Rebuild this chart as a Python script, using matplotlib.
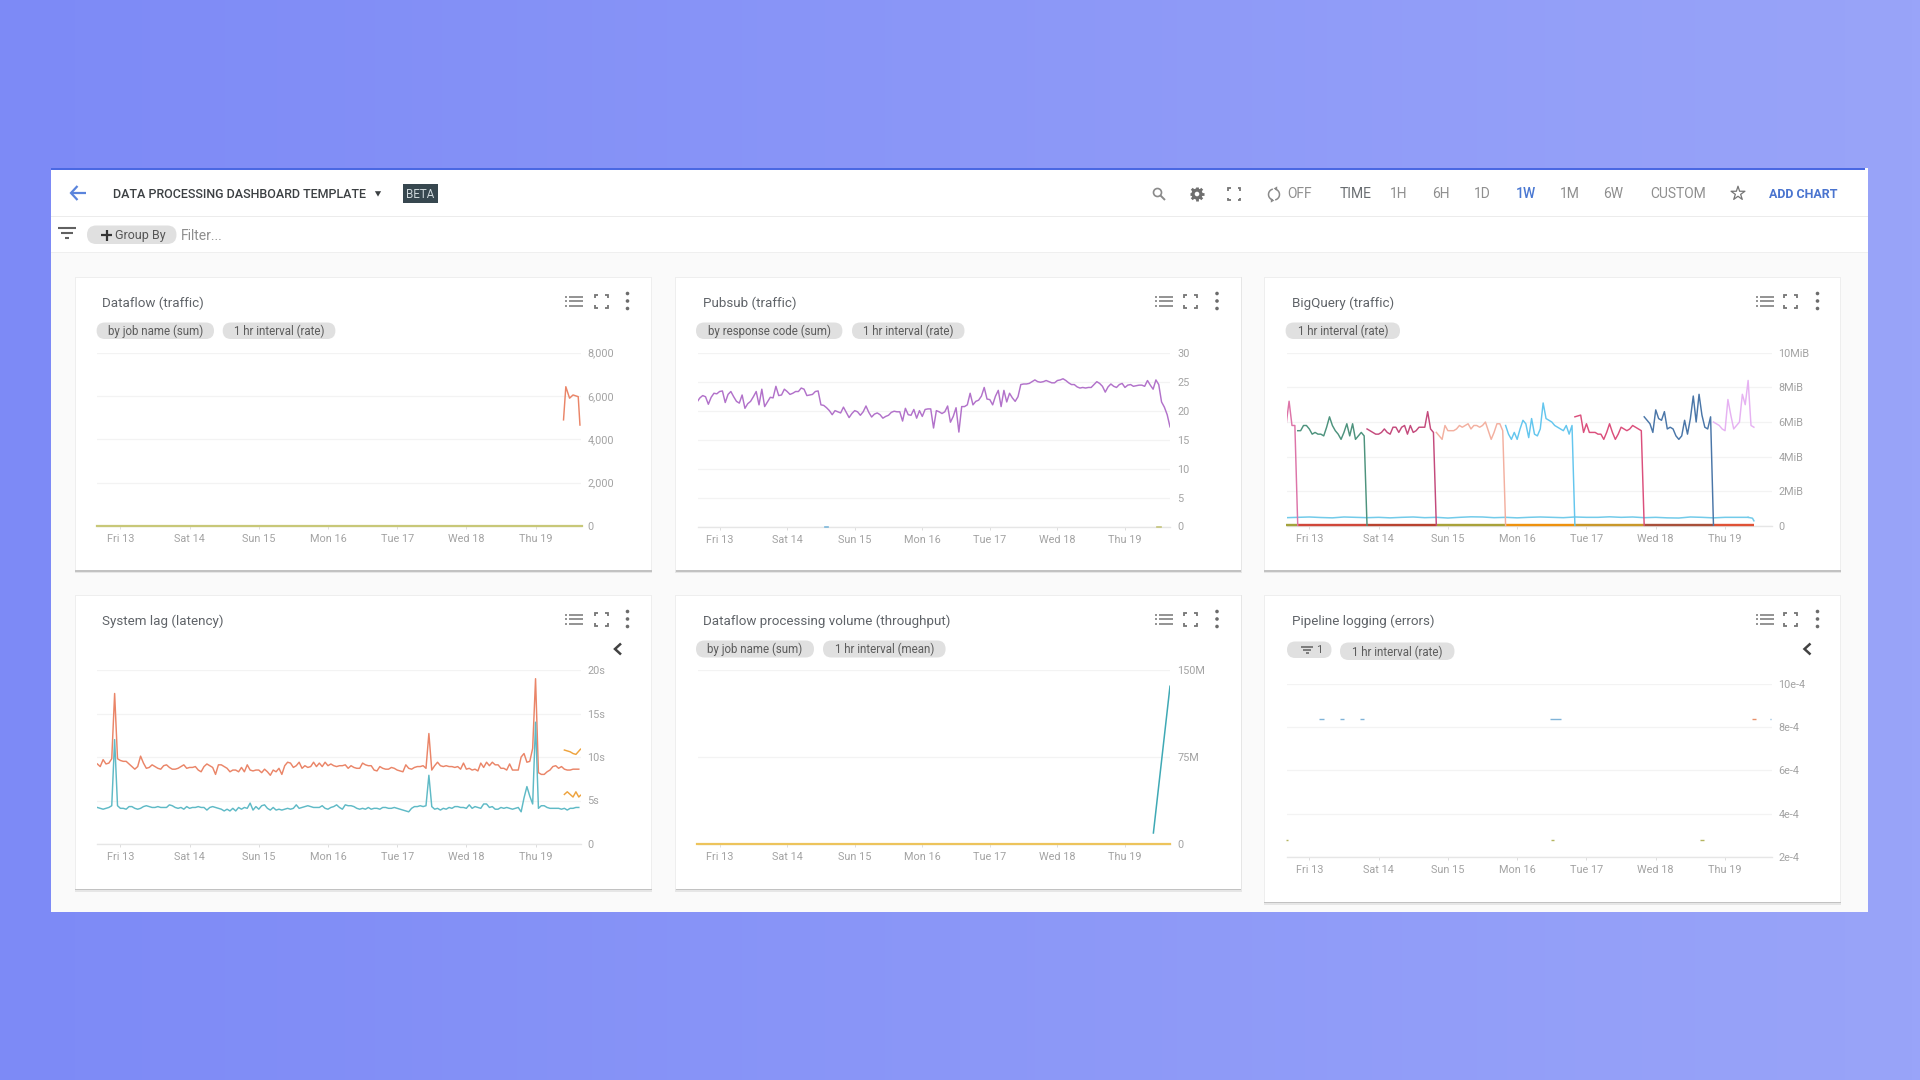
import numpy as np
import matplotlib
matplotlib.use('Agg')
import matplotlib.pyplot as plt
from matplotlib.patches import FancyBboxPatch, Rectangle, Circle, RegularPolygon

plt.rcParams['font.family'] = ['Roboto', 'DejaVu Sans']

day_hours = [0, 24, 48, 72, 96, 120, 144]
day_labels = ['Fri 13', 'Sat 14', 'Sun 15', 'Mon 16', 'Tue 17', 'Wed 18', 'Thu 19']

# Dataflow traffic
flow_hours = [153.7, 154.5, 155.8, 157, 158.8, 159.4]
flow_values = [4900, 6430, 5900, 6050, 5970, 4660]

# Pubsub traffic, hourly from hour -8
pubsub = [21.5, 22.2, 22.6, 22.4, 21.1, 22.3, 23.0, 22.9,
          23.3, 23.4, 21.4, 22.8, 23.3, 22.4, 21.6, 21.3, 22.7, 20.4, 21.2, 21.6, 22.4, 23.3, 21.0, 23.7,
          20.7, 21.5, 22.3, 22.2, 24.2, 22.6, 22.7, 23.7,
          23.3, 22.8, 23.0, 23.3, 23.3, 23.9, 23.7, 22.6, 22.7, 22.8, 23.3, 23.4, 21.0, 20.9, 20.5, 20.0,
          19.3, 20.0, 19.8, 19.6, 20.6, 19.7, 18.8, 19.5,
          20.0, 19.8, 19.2, 19.8, 20.8, 19.7, 18.9, 19.4, 19.6, 19.3, 18.7, 19.0, 19.2, 19.7, 19.9, 19.8,
          19.8, 18.2, 20.4, 19.3, 19.2, 20.2, 18.7, 20.0,
          19.0, 20.2, 20.3, 20.3, 17.0, 20.0, 19.8, 19.5, 19.8, 20.8, 18.0, 19.0, 20.5, 16.3, 20.7, 20.7,
          21.0, 23.0, 21.0, 21.6, 21.8, 22.5, 24.0, 22.0,
          21.9, 21.0, 22.5, 23.5, 20.7, 23.5, 21.5, 23.0, 22.2, 21.6, 22.4, 24.5, 24.6, 24.6, 24.7, 25.0,
          25.3, 25.0, 24.9, 25.0, 25.2, 25.0, 24.8, 24.8,
          25.2, 25.3, 25.5, 25.2, 24.8, 24.5, 24.5, 24.1, 23.9, 24.0, 23.9, 24.0, 24.0, 24.5, 25.0, 24.7,
          24.2, 23.2, 24.1, 24.6, 24.2, 24.0, 24.5, 24.7,
          24.0, 24.4, 24.5, 24.2, 24.3, 24.4, 24.4, 24.2, 25.2, 24.4, 23.7, 25.3, 24.5, 21.5, 20.6, 19.3, 17.2]

# BigQuery traffic, one list per job, hourly from its start hour
bq_starts = [-8, -4, 20, 44, 68, 92, 116, 140]
bq_colors = ['#dd74a8', '#4d937d', '#c44a7c', '#f3b0a0', '#64c6ee', '#db4f7c', '#4a76a8', '#e6b2f2']
bq_jobs = [
    [5.9, 7.2, 5.8, 5.8, 0],
    [5.5, 5.5, 5.8, 5.8, 5.6, 5.3, 5.4, 5.3, 5.3, 5.2, 5.7, 6.3, 5.8, 5.5, 5.3, 5.0, 5.4, 5.9, 5.2, 5.9, 5.0, 5.2, 5.4, 5.2, 0],
    [5.6, 5.5, 5.4, 5.3, 5.3, 5.4, 5.6, 5.4, 5.3, 5.7, 5.7, 5.4, 5.7, 5.8, 5.3, 5.8, 5.4, 5.5, 5.7, 5.7, 5.7, 6.6, 5.6, 5.4, 0],
    [5.4, 5.2, 5.0, 5.8, 5.5, 5.5, 5.5, 5.6, 5.8, 5.7, 5.8, 5.9, 5.6, 5.8, 5.8, 5.7, 5.8, 6.0, 5.5, 5.0, 5.4, 5.9, 5.9, 5.5, 0],
    [5.8, 5.3, 5.0, 5.4, 5.0, 5.6, 6.1, 5.9, 5.1, 6.2, 5.3, 5.2, 5.6, 7.1, 6.2, 6.1, 6.0, 5.8, 5.7, 5.6, 5.5, 5.8, 5.3, 5.8, 0],
    [6.3, 6.35, 6.4, 5.4, 5.9, 5.4, 5.4, 5.4, 5.3, 5.3, 5.0, 5.4, 5.9, 5.4, 5.0, 5.3, 5.7, 5.6, 5.5, 5.6, 5.8, 5.7, 5.6, 5.5, 0],
    [6.3, 6.1, 5.9, 5.4, 6.7, 6.2, 6.1, 6.6, 5.6, 5.7, 5.6, 5.2, 5.0, 5.2, 6.1, 5.3, 6.2, 7.5, 6.0, 7.6, 6.4, 5.7, 5.6, 6.3, 0],
    [6.0, 5.9, 5.8, 5.6, 5.5, 7.3, 6.4, 5.6, 5.8, 6.0, 7.6, 7.0, 8.4, 5.8, 5.7],
]
# every 4 hours from hour -8
bq_base = [0.48, 0.5, 0.52, 0.49, 0.47, 0.52, 0.5, 0.48, 0.5, 0.47, 0.5, 0.52, 0.48, 0.5, 0.46, 0.5, 0.53, 0.52, 0.48, 0.5,
           0.47, 0.5, 0.52, 0.5, 0.48, 0.52, 0.5, 0.5, 0.53, 0.5, 0.52, 0.48, 0.5, 0.47, 0.46, 0.52, 0.5, 0.47, 0.5, 0.5, 0.5]
bq_zero_hours = [-8, -4, 20, 44, 68, 92, 116, 140, 154]
bq_zero_colors = ['#a4a23c', '#d0473a', '#b8432f', '#a9a23a', '#ee920e', '#c9982a', '#a8503a', '#df5236']

# System lag, hourly from hour -8
lag_red = [9.2, 8.9, 9.7, 9.2, 9.3, 9.8, 17.3, 9.8,
           9.6, 9.5, 9.5, 9.2, 8.9, 8.6, 8.9, 10.1, 9.3, 8.7, 8.8, 9.1, 8.9, 8.7, 8.6, 9.0, 9.1, 8.8, 8.6, 8.6, 8.7, 8.9, 9.1, 8.7,
           8.8, 8.8, 8.9, 8.5, 8.3, 8.9, 9.2, 9.0, 8.8, 8.0, 9.1, 9.1, 8.9, 8.7, 8.3, 8.5, 8.5, 8.3, 8.8, 8.3, 9.1, 8.5, 8.4, 8.5,
           8.5, 8.2, 8.6, 8.3, 7.9, 8.5, 8.3, 8.7, 8.0, 9.0, 9.4, 9.3, 8.8, 9.0, 9.4, 8.7, 9.0, 8.8, 8.9, 9.4, 8.9, 9.3, 8.9, 9.4,
           9.0, 9.2, 9.0, 8.9, 9.0, 9.0, 9.1, 8.7, 9.0, 8.8, 8.7, 8.7, 9.3, 9.1, 9.0, 9.0, 8.5, 8.4, 8.9, 8.7, 8.6, 8.6, 8.8, 8.7,
           8.5, 8.4, 8.3, 9.1, 8.7, 8.6, 8.8, 8.9, 8.9, 9.0, 8.7, 12.7, 8.5, 9.0, 9.4, 9.0, 8.9, 9.0, 8.9, 8.9, 8.8, 8.9, 8.6, 9.3,
           8.6, 8.7, 8.5, 8.6, 8.4, 9.3, 8.8, 9.4, 9.0, 9.4, 9.1, 9.1, 8.7, 8.7, 8.5, 9.2, 8.5, 8.5, 8.5, 10.0, 10.4, 9.4, 9.5, 11.0,
           19.0, 8.2, 8.0, 8.0, 8.3, 8.5, 8.9, 9.0, 8.7, 8.9, 8.6, 8.5, 8.5, 8.6, 8.6, 8.6]
lag_teal = [4.2, 4.1, 4.0, 4.1, 4.2, 4.4, 12.0, 4.4,
            4.1, 4.1, 4.0, 4.3, 4.3, 4.1, 4.0, 4.1, 4.3, 4.4, 4.3, 4.2, 4.2, 4.3, 4.2, 4.2, 4.2, 4.5, 4.4, 4.2, 4.1, 4.2, 4.0, 4.3,
            4.1, 4.2, 4.2, 4.3, 4.2, 4.2, 3.9, 4.2, 4.3, 4.2, 4.1, 4.0, 3.8, 4.0, 3.8, 4.1, 3.8, 4.2, 4.0, 4.2, 4.1, 4.7, 3.9, 4.3,
            4.0, 4.4, 4.5, 4.1, 3.9, 4.2, 3.9, 4.0, 3.9, 4.0, 4.1, 4.0, 4.1, 4.5, 4.1, 4.2, 4.3, 4.4, 4.3, 4.2, 4.2, 4.2, 4.4, 4.1,
            4.0, 4.2, 4.3, 4.5, 4.2, 4.0, 4.5, 4.4, 4.4, 4.3, 4.1, 4.0, 4.1, 4.0, 4.2, 4.0, 4.1, 4.1, 4.0, 4.2, 4.2, 4.1, 4.1, 4.2,
            4.1, 4.0, 3.9, 3.8, 3.7, 4.1, 4.3, 4.3, 4.4, 4.3, 4.4, 7.9, 4.3, 4.0, 4.1, 3.9, 4.1, 4.0, 4.2, 4.1, 4.3, 4.3, 4.2, 4.2,
            4.1, 4.5, 4.1, 4.3, 4.2, 4.1, 4.6, 4.6, 4.2, 4.3, 4.0, 4.0, 4.2, 4.1, 4.2, 4.1, 4.0, 4.1, 4.2, 3.7, 5.3, 6.6, 5.5, 4.6,
            14.0, 4.1, 4.4, 4.4, 4.2, 4.1, 4.1, 4.1, 4.1, 4.0, 4.1, 3.9, 4.1, 4.1, 4.2, 4.2]
lag_up_hours = [154, 155, 156, 157, 158, 159.6]
lag_up_values = [10.8, 10.7, 10.6, 10.4, 10.3, 10.9]
lag_low_hours = [154, 155, 156, 157, 158, 159, 159.6]
lag_low_values = [5.7, 6.0, 5.7, 5.4, 6.0, 5.4, 5.6]

# Dataflow throughput (millions)
vol_hours = [154.1, 160]
vol_values = [9.5, 136]

# Pipeline logging, short runs as (start hour, end hour, value in e-4)
log_blue = [(3.5, 5, 8.35), (10.5, 12, 8.35), (17.5, 19, 8.35), (83.3, 87.2, 8.35), (159.7, 160, 8.35)]
log_orange = [(153.3, 154.8, 8.35)]
log_olive = [(-7.9, -7.4, 2.8), (83.7, 84.9, 2.8), (135.5, 136.8, 2.8)]

GREY = '#a3a3a3'
CHIP = '#e0e0e0'
DARK = '#5f6368'

fig = plt.figure(figsize=(19.2, 10.8), dpi=100)
bg = fig.add_axes([0, 0, 1, 1])
bg.set_xlim(0, 1920)
bg.set_ylim(1080, 0)
bg.axis('off')

grad = np.linspace(0, 1, 256).reshape(1, -1)
bg.imshow(grad, extent=[0, 1920, 1080, 0], aspect='auto', zorder=0,
          cmap=matplotlib.colors.LinearSegmentedColormap.from_list('bgc', ['#7d8af6', '#99a4f9']))
bg.set_xlim(0, 1920)
bg.set_ylim(1080, 0)


def rect(x0, y0, x1, y1, color, z=1, **kw):
    bg.add_patch(Rectangle((x0, y0), x1 - x0, y1 - y0, fc=color, ec='none', zorder=z, **kw))


def chip(x0, y0, x1, y1, label=None, size=8.3, color='#5c5c5c'):
    r = (y1 - y0) / 2
    bg.add_patch(FancyBboxPatch((x0 + r, y0 + r), x1 - x0 - 2 * r, 0, boxstyle='round,pad=%f' % r,
                                fc=CHIP, ec='none', zorder=3))
    if label:
        bg.text((x0 + x1) / 2, (y0 + y1) / 2 + 0.6, label, ha='center', va='center', fontsize=size,
                color=color, zorder=4)


def seg(xs, ys, color='#757575', lw=1.2, z=4):
    bg.plot(xs, ys, color=color, lw=lw, zorder=z, solid_capstyle='butt', solid_joinstyle='miter')


def list_icon(x0, x1, y):
    for dy in (-4.5, 0, 4.5):
        seg([x0 + 4, x1], [y + dy, y + dy], lw=1.1)
        seg([x0, x0 + 2], [y + dy, y + dy], lw=1.1)


def full_icon(cx, cy, h=6.5, arm=3, color='#757575'):
    for sx in (-1, 1):
        for sy in (-1, 1):
            seg([cx + sx * (h - arm), cx + sx * h, cx + sx * h],
                [cy + sy * h, cy + sy * h, cy + sy * (h - arm)], color=color, lw=1.3)


def dots_icon(cx, cy):
    for dy in (-7.5, 0, 7.5):
        bg.add_patch(Circle((cx, cy + dy), 1.8, fc='#6b6b6b', ec='none', zorder=4))


def chevron(cx, cy):
    seg([cx + 3, cx - 3, cx + 3], [cy - 5.5, cy, cy + 5.5], color='#424242', lw=1.8)


def card(x0, y0, x1, y1, title, tx, ty, list_x, full_x, dot_x, icon_y):
    rect(x0 - 1, y0 - 1, x1 + 1, y1 + 3, '#d9d9d9', z=1.4, alpha=0.6)
    rect(x0 - 0.5, y0 - 0.5, x1 + 0.5, y1 + 1.5, '#c2c2c2', z=1.5)
    rect(x0 - 0.8, y0 - 0.8, x1 + 0.8, y1 + 0.3, '#eeeeee', z=1.6)
    rect(x0, y0, x1, y1, 'white', z=2)
    bg.text(tx, ty, title, fontsize=9.6, color=DARK, ha='left', va='center', zorder=4)
    list_icon(list_x, list_x + 18, icon_y)
    full_icon(full_x, icon_y)
    dots_icon(dot_x, icon_y)


def chart(x0, x1, ytop, ybot, fri_px, per_hour, ylim, yticks, ylabels, label_x):
    ax = fig.add_axes([x0 / 1920, 1 - ybot / 1080, (x1 - x0) / 1920, (ybot - ytop) / 1080])
    ax.patch.set_alpha(0)
    ax.set_xlim((x0 - fri_px) / per_hour, (x1 - fri_px) / per_hour)
    ax.set_ylim(*ylim)
    for s in ax.spines.values():
        s.set_visible(False)
    ax.set_yticks(yticks)
    ax.set_yticklabels(ylabels, fontsize=7.8, color=GREY)
    ax.yaxis.tick_right()
    ax.tick_params(axis='y', length=0, pad=(label_x - x1) * 0.72)
    ax.set_xticks(day_hours)
    ax.set_xticklabels(day_labels, fontsize=7.8, color=GREY)
    ax.tick_params(axis='x', length=2, width=0.7, color='#dddddd', pad=3.8)
    ax.set_axisbelow(True)
    ax.grid(axis='y', color='#f3f3f3', lw=0.9)
    ax.axhline(ylim[0], color='#e6e6e6', lw=1, clip_on=False, zorder=1)
    return ax


# page frame
rect(51, 168, 1868, 912, '#fafafa')
rect(51, 170, 1868, 216, 'white', z=1.2)
rect(51, 217, 1868, 252, 'white', z=1.2)
rect(51, 216, 1868, 217, '#ececec', z=1.3)
rect(51, 252, 1868, 253, '#efefef', z=1.3)
rect(51, 168, 1865, 170, '#4a68e2', z=1.3)

# header left
seg([86, 72], [193, 193], color='#5a84dc', lw=1.6)
seg([77.5, 71, 77.5], [186, 193, 200], color='#5a84dc', lw=1.6)
bg.text(113, 194, 'DATA PROCESSING DASHBOARD TEMPLATE', fontsize=9.0, fontweight='medium',
        color='#3c4043', ha='left', va='center', zorder=4)
bg.add_patch(RegularPolygon((378, 193), 3, radius=3.6, orientation=0, fc='#3c4043', ec='none', zorder=4))
rect(403, 184, 438, 203, '#37474f', z=3)
bg.text(420.5, 194, 'BETA', fontsize=8.4, color='#cfd8dc', ha='center', va='center', zorder=4)

# header right
bg.add_patch(Circle((1157.5, 192.5), 4, fc='none', ec='#8a8a8a', lw=1.2, zorder=4))
seg([1160.5, 1165], [195.5, 200], color='#8a8a8a', lw=1.4)
gear_angles = np.radians(np.arange(0, 360, 45))
for a in gear_angles:
    seg([1197, 1197 + 7.4 * np.cos(a)], [194, 194 + 7.4 * np.sin(a)], color='#6f6f6f', lw=2.0)
bg.add_patch(Circle((1197, 194), 5.6, fc='#6f6f6f', ec='none', zorder=4))
bg.add_patch(Circle((1197, 194), 2.3, fc='white', ec='none', zorder=5))
full_icon(1234, 194, h=6, arm=2.5)
arc1 = np.radians(np.arange(110, 260, 10))
arc2 = np.radians(np.arange(-70, 80, 10))
for arc in (arc1, arc2):
    bg.plot(1274 + 5.5 * np.cos(arc), 194.5 + 5.5 * np.sin(arc), color='#8a8a8a', lw=1.1, zorder=4)
bg.add_patch(RegularPolygon((1276, 188.5), 3, radius=2.4, orientation=np.pi / 2, fc='#8a8a8a', ec='none', zorder=4))
bg.add_patch(RegularPolygon((1272, 200.5), 3, radius=2.4, orientation=-np.pi / 2, fc='#8a8a8a', ec='none', zorder=4))
bar_labels = ['OFF', 'TIME', '1H', '6H', '1D', '1W', '1M', '6W', 'CUSTOM']
bar_x = [1300, 1355.5, 1399, 1441, 1482.5, 1525.5, 1570, 1613.5, 1678]
bar_colors = ['#8f8f8f', '#6a6e72', '#8f8f8f', '#8f8f8f', '#8f8f8f', '#4a78d2', '#8f8f8f', '#8f8f8f', '#8f8f8f']
for lab, lx, c in zip(bar_labels, bar_x, bar_colors):
    bg.text(lx, 194.5, lab, fontsize=10, color=c, ha='center', va='center', zorder=4,
            fontweight='medium' if lab == '1W' else 'normal')
bg.scatter([1738], [193.5], marker='*', s=110, fc='none', ec='#757575', lw=0.9, zorder=4)
bg.text(1803, 194, 'ADD CHART', fontsize=9, fontweight='bold', color='#4a74cf', ha='center', va='center', zorder=4)

# filter row
seg([58, 76], [227.5, 227.5], color='#616161', lw=1.5)
seg([61, 73], [232.5, 232.5], color='#616161', lw=1.5)
seg([65, 69], [237.5, 237.5], color='#616161', lw=1.5)
chip(87, 225.5, 176.5, 244)
seg([106.5, 106.5], [229.5, 240.5], color='#333333', lw=1.6)
seg([101, 112], [235, 235], color='#333333', lw=1.6)
bg.text(115, 235, 'Group By', fontsize=9, color='#555555', ha='left', va='center', zorder=4)
bg.text(181, 236.5, 'Filter...', fontsize=10, color='#8e8e8e', ha='left', va='center', zorder=4)

# cards
card(75.7, 278, 651, 570, 'Dataflow (traffic)', 102.5, 303.3, 564.5, 601.5, 627.5, 301)
card(676, 278, 1240.5, 570, 'Pubsub (traffic)', 703, 303.3, 1154.5, 1190, 1217, 301)
card(1264.5, 278, 1840, 570, 'BigQuery (traffic)', 1292, 303.3, 1755.5, 1790.5, 1817.5, 301)
card(75.7, 595.5, 651, 888.5, 'System lag (latency)', 102.5, 621.3, 564.5, 601.5, 627.5, 619)
card(676, 595.5, 1240.5, 888.5, 'Dataflow processing volume (throughput)', 703, 621.3, 1154.5, 1190, 1217, 619)
card(1264.5, 595.5, 1840, 901.5, 'Pipeline logging (errors)', 1292, 621.3, 1755.5, 1790.5, 1817.5, 619)

chip(96.6, 322.5, 214, 339, 'by job name (sum)')
chip(222.7, 322.5, 335.4, 339, '1 hr interval (rate)')
chip(696, 322.5, 842.4, 339, 'by response code (sum)')
chip(852, 322.5, 964.5, 339, '1 hr interval (rate)')
chip(1285.6, 322.5, 1400, 339, '1 hr interval (rate)')
chip(696, 640.5, 814, 657.5, 'by job name (sum)')
chip(823, 640.5, 945.6, 657.5, '1 hr interval (mean)')
chip(1287, 641.5, 1331.5, 658)
seg([1301, 1313], [647, 647], color='#616161', lw=1.1)
seg([1303, 1311], [650, 650], color='#616161', lw=1.1)
seg([1305.5, 1308.5], [653, 653], color='#616161', lw=1.1)
bg.text(1316, 650, '1', fontsize=8, color='#5c5c5c', ha='left', va='center', zorder=4)
chip(1340, 642.5, 1454.5, 660, '1 hr interval (rate)')
chevron(618, 649)
chevron(1807.5, 649)

line_kw = dict(lw=1.05, solid_joinstyle='round')

# Dataflow traffic
ax1 = chart(97.4, 581, 352.7, 526, 120.4, 2.883, (0, 8000), [0, 2000, 4000, 6000, 8000],
            ['0', '2,000', '4,000', '6,000', '8,000'], 587.5)
ax1.plot([-8, 160], [0, 0], color='#c8c878', lw=1.6, clip_on=False)
ax1.plot(flow_hours, flow_values, color='#ea8568', **line_kw)

# Pubsub traffic
ax2 = chart(697.7, 1170, 352.7, 526.5, 719.6, 2.815, (0, 30), [0, 5, 10, 15, 20, 25, 30],
            ['0', '5', '10', '15', '20', '25', '30'], 1177.5)
ax2.plot(-8 + np.arange(len(pubsub)), pubsub, color='#b272ca', **line_kw)
ax2.plot([37.5, 38.5], [0, 0], color='#7db8da', lw=1.2, clip_on=False)
ax2.plot([155.5, 156.7], [0, 0], color='#c4c47a', lw=1.2, clip_on=False)

# BigQuery traffic
ax3 = chart(1287, 1772, 352.7, 526, 1309.3, 2.887, (0, 10), [0, 2, 4, 6, 8, 10],
            ['0', '2MiB', '4MiB', '6MiB', '8MiB', '10MiB'], 1778.5)
ax3.plot(-8 + 4 * np.arange(len(bq_base)), bq_base, color='#72cbea', lw=1.1)
ax3.plot([152, 153.5, 154], [0.5, 0.45, 0.3], color='#72cbea', lw=1.1)
for i, c in enumerate(bq_zero_colors):
    ax3.plot(bq_zero_hours[i:i + 2], [0.03, 0.03], color=c, lw=1.7, clip_on=False, solid_capstyle='butt')
for start, job, c in zip(bq_starts, bq_jobs, bq_colors):
    ax3.plot(start + np.arange(len(job)), job, color=c, **line_kw)

# System lag
ax4 = chart(97, 581, 670, 844, 120.4, 2.883, (0, 20), [0, 5, 10, 15, 20],
            ['0', '5s', '10s', '15s', '20s'], 587.5)
ax4.plot(-8 + np.arange(len(lag_red)), lag_red, color='#ea8568', **line_kw)
ax4.plot(-8 + np.arange(len(lag_teal)), lag_teal, color='#5fbac6', **line_kw)
ax4.plot(lag_up_hours, lag_up_values, color='#eea33e', **line_kw)
ax4.plot(lag_low_hours, lag_low_values, color='#eea33e', **line_kw)

# Dataflow throughput
ax5 = chart(697.7, 1170, 670, 844, 719.6, 2.815, (0, 150), [0, 75, 150], ['0', '75M', '150M'], 1177.5)
ax5.plot([-8, 160], [0, 0], color='#edc45c', lw=1.6, clip_on=False)
ax5.plot(vol_hours, vol_values, color='#3fa9b5', lw=1.1)

# Pipeline logging
ax6 = chart(1287, 1772, 683.7, 857, 1309.3, 2.887, (2, 10), [2, 4, 6, 8, 10],
            ['2e-4', '4e-4', '6e-4', '8e-4', '10e-4'], 1778.5)
for runs, c in ((log_blue, '#7fb3d8'), (log_orange, '#e8906a'), (log_olive, '#b5b560')):
    for h0, h1, v in runs:
        ax6.plot([h0, h1], [v, v], color=c, lw=1.0, clip_on=False, solid_capstyle='butt')

fig.savefig('out.png', dpi=100)
